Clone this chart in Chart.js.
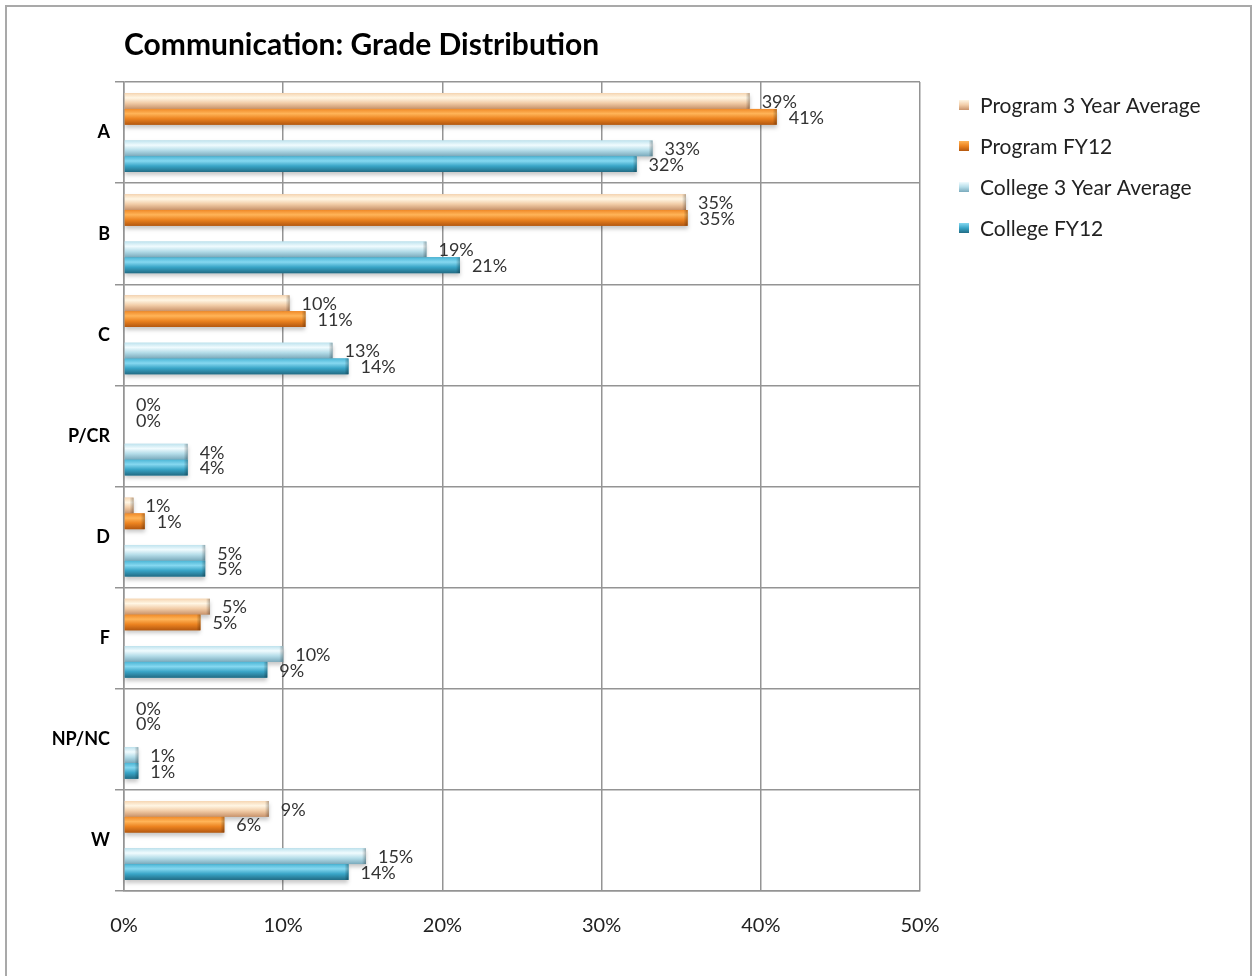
<!DOCTYPE html>
<html>
<head>
<meta charset="utf-8">
<title>Communication: Grade Distribution</title>
<script src="https://cdn.jsdelivr.net/npm/chart.js@4.4.1/dist/chart.umd.min.js"></script>
<style>
    html, body { margin: 0; padding: 0; background: #fff; overflow: hidden; }
    #frame {
        position: absolute; left: 5px; top: 5px; width: 1243px; height: 990px;
        border: 2px solid #a9a9a9; border-bottom: none;
    }
    #chart-wrap { position: absolute; left: 0; top: 0; width: 1253px; height: 976px; }
</style>
</head>
<body>
<div id="frame"></div>
<div id="chart-wrap"><canvas id="grade-chart" width="1253" height="976"></canvas></div>
<script>
const chartTitle = "Communication: Grade Distribution";
const grades = ["A", "B", "C", "P/CR", "D", "F", "NP/NC", "W"];
const program3YearAvg = [39.3, 35.3, 10.4, 0, 0.6, 5.4, 0, 9.1];
const programFY12 = [41.0, 35.4, 11.4, 0, 1.3, 4.8, 0, 6.3];
const college3YearAvg = [33.2, 19.0, 13.1, 4.0, 5.1, 10.0, 0.9, 15.2];
const collegeFY12 = [32.2, 21.1, 14.1, 4.0, 5.1, 9.0, 0.9, 14.1];
const xTicks = [0, 10, 20, 30, 40, 50];

const FONT = "Lato, 'Open Sans', sans-serif";
const GRID = "#949494";

// cylinder shading for each series: stops top -> bottom
const shades = {
    "Program 3 Year Average": ["#f6d6b3", "#fff6e4", "#f2cda8", "#c9936b"],
    "Program FY12": ["#f08a28", "#ffb458", "#ec8320", "#b45810"],
    "College 3 Year Average": ["#bfe3ee", "#f0fbfe", "#b5dde9", "#7aaabc"],
    "College FY12": ["#4cb6d6", "#86d8f0", "#39a5c7", "#226c85"],
};

function series(label, data) {
    return {
        label: label,
        data: data,
        backgroundColor: shades[label][2],
        borderWidth: 0,
        barPercentage: 1,
        categoryPercentage: 0.78,
    };
}

// empty slot that keeps the program and college pairs apart
const spacer = {
    label: "",
    data: grades.map(() => null),
    backgroundColor: "rgba(0,0,0,0)",
    barPercentage: 1,
    categoryPercentage: 0.78,
    spacer: true,
};

const datasets = [
    series("Program 3 Year Average", program3YearAvg),
    series("Program FY12", programFY12),
    spacer,
    series("College 3 Year Average", college3YearAvg),
    series("College FY12", collegeFY12),
];

function realDatasets(chart) {
    return chart.data.datasets
        .map((ds, i) => ({ ds, i }))
        .filter((d) => !d.ds.spacer);
}

/** Paints a glossy gradient over each bar. */
const barShading = {
    id: "barShading",
    afterDatasetsDraw(chart) {
        const ctx = chart.ctx;
        realDatasets(chart).forEach(({ ds, i }) => {
            const stops = shades[ds.label];
            chart.getDatasetMeta(i).data.forEach((bar) => {
                const { x, y, base, height } = bar.getProps(["x", "y", "base", "height"], true);
                if (x - base < 0.5) return;
                const top = y - height / 2;
                const g = ctx.createLinearGradient(0, top, 0, top + height);
                g.addColorStop(0, stops[0]);
                g.addColorStop(0.3, stops[1]);
                g.addColorStop(0.62, stops[2]);
                g.addColorStop(1, stops[3]);
                ctx.save();
                ctx.shadowColor = "rgba(0,0,0,0.22)";
                ctx.shadowBlur = 4;
                ctx.shadowOffsetY = 3;
                ctx.fillStyle = g;
                ctx.fillRect(base, top, x - base, height);
                ctx.restore();
                // bevelled end cap
                const capW = Math.min(4, x - base);
                const cap = ctx.createLinearGradient(x - capW, 0, x, 0);
                cap.addColorStop(0, "rgba(0,0,0,0)");
                cap.addColorStop(1, "rgba(0,0,0,0.28)");
                ctx.fillStyle = cap;
                ctx.fillRect(x - capW, top, capW, height);
            });
        });
    },
};

/** Writes the rounded percentage next to every bar. */
const valueLabels = {
    id: "valueLabels",
    afterDatasetsDraw(chart) {
        const ctx = chart.ctx;
        ctx.save();
        ctx.font = `18px ${FONT}`;
        ctx.fillStyle = "#333";
        ctx.textAlign = "left";
        ctx.textBaseline = "middle";
        realDatasets(chart).forEach(({ ds, i }) => {
            chart.getDatasetMeta(i).data.forEach((bar, j) => {
                const { x, y } = bar.getProps(["x", "y"], true);
                ctx.fillText(`${Math.round(ds.data[j])}%`, x + 12, y + 1);
            });
        });
        ctx.restore();
    },
};

/** Title aligned with the plot and legend drawn in the right margin. */
const titleAndLegend = {
    id: "titleAndLegend",
    afterDraw(chart) {
        const ctx = chart.ctx;
        const area = chart.chartArea;
        ctx.save();
        ctx.fillStyle = "#000";
        ctx.textBaseline = "alphabetic";
        ctx.font = `bold 30px ${FONT}`;
        ctx.fillText(chartTitle, area.left, 55);

        ctx.font = `21px ${FONT}`;
        ctx.textBaseline = "middle";
        realDatasets(chart).forEach(({ ds }, k) => {
            const cy = 105 + k * 41;
            const bx = area.right + 39;
            const stops = shades[ds.label];
            const g = ctx.createLinearGradient(0, cy - 5, 0, cy + 5);
            g.addColorStop(0, stops[1]);
            g.addColorStop(0.5, stops[2]);
            g.addColorStop(1, stops[3]);
            ctx.fillStyle = g;
            ctx.fillRect(bx, cy - 5, 10, 10);
            ctx.fillStyle = "#222";
            ctx.fillText(ds.label, bx + 21, cy + 1);
        });
        ctx.restore();
    },
};

new Chart(document.getElementById("grade-chart"), {
    type: "bar",
    data: { labels: grades, datasets: datasets },
    plugins: [barShading, valueLabels, titleAndLegend],
    options: {
        indexAxis: "y",
        responsive: false,
        animation: false,
        layout: { padding: { top: 82, right: 333, bottom: 0, left: 0 } },
        plugins: {
            legend: { display: false },
            title: { display: false },
            tooltip: { enabled: false },
        },
        scales: {
            x: {
                min: 0,
                max: 50,
                afterBuildTicks: (scale) => {
                    scale.ticks = xTicks.map((v) => ({ value: v }));
                },
                afterFit: (scale) => {
                    scale.height = 85;
                },
                ticks: {
                    callback: (v) => `${v}%`,
                    padding: 23,
                    color: "#222",
                    font: { family: FONT, size: 20 },
                },
                grid: { color: GRID, lineWidth: 1.5, drawTicks: false },
                border: { color: GRID, width: 1.5 },
            },
            y: {
                afterFit: (scale) => {
                    scale.width = 124;
                },
                ticks: {
                    padding: 5,
                    color: "#000",
                    font: { family: FONT, size: 18, weight: "bold" },
                },
                grid: { offset: true, color: GRID, lineWidth: 1.5, tickLength: 9 },
                border: { color: GRID, width: 1.5 },
            },
        },
    },
});
</script>
</body>
</html>
